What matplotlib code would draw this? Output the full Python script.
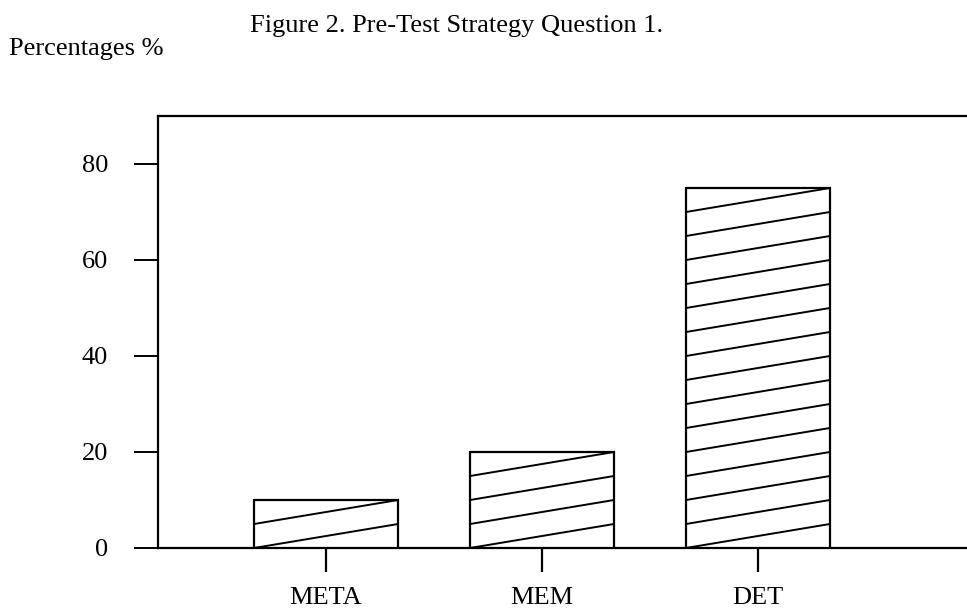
import matplotlib.pyplot as plt

categories = ['META', 'MEM', 'DET']
percentages = [10, 20, 75]
y_ticks = [0, 20, 40, 60, 80]

plt.rcParams['font.family'] = ['Liberation Serif', 'DejaVu Serif']
plt.rcParams['font.size'] = 19

fig = plt.figure(figsize=(9.67, 6.10), dpi=100)
ax = fig.add_axes([158 / 967, 62 / 610, 809 / 967, 432 / 610])

pos = list(range(len(categories)))
width = 0.667
bars = ax.bar(pos, percentages, width=width, color='white', edgecolor='black', linewidth=1.6, zorder=3)

# shallow diagonal hatching, one line every 5 units, clipped to each bar
for x, h, patch in zip(pos, percentages, bars):
    x0 = x - width / 2
    x1 = x + width / 2
    for k in range(0, int(h), 5):
        ln, = ax.plot([x0, x1], [k, k + 5], color='black', lw=1.4, zorder=4)
        ln.set_clip_path(patch)

ax.set_xlim(-0.778, 2.968)
ax.set_ylim(0, 90)
ax.set_yticks(y_ticks)
ax.set_xticks(pos)
ax.set_xticklabels(categories)

for s in ['left', 'top', 'bottom']:
    ax.spines[s].set_linewidth(1.6)
ax.spines['right'].set_visible(False)

ax.tick_params(axis='y', direction='out', length=17, width=1.4, pad=19)
ax.tick_params(axis='x', direction='out', length=17, width=1.6, pad=11)

fig.text(250 / 967, 1 - 32 / 610, 'Figure 2. Pre-Test Strategy Question 1.', ha='left', va='baseline', fontsize=19)
fig.text(9 / 967, 1 - 55 / 610, 'Percentages %', ha='left', va='baseline', fontsize=19)

fig.savefig('out.png', dpi=100)
